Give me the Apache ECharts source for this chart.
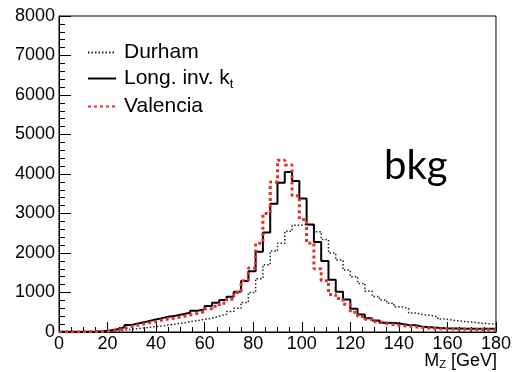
<!DOCTYPE html>
<html><head><meta charset="utf-8">
<script src="https://cdn.jsdelivr.net/npm/echarts@6/dist/echarts.min.js"></script>
<style>html,body{margin:0;padding:0;background:#fff}#c{width:514px;height:372px}</style>
</head><body><div id="c"></div>
<script>
// lower edges of the 3 GeV bins
const binLow = [0,3,6,9,12,15,18,21,24,27,30,33,36,39,42,45,48,51,54,57,
  60,63,66,69,72,75,78,81,84,87,90,93,96,99,102,105,108,111,114,117,
  120,123,126,129,132,135,138,141,144,147,150,153,156,159,162,165,168,171,174,177];
const xMax = 180;
const seriesNames = ['Durham', 'Long. inv. kt', 'Valencia'];
const durham = [0,0,2,3,5,8,20,30,50,70,90,110,130,150,180,200,230,260,290,320,
  350,400,450,520,600,750,1000,1350,1700,2050,2250,2550,2700,2720,2700,2540,2340,2000,1820,1570,
  1400,1230,1030,900,810,730,640,600,480,440,420,390,330,300,280,260,250,220,210,200];
const likt = [5,5,5,8,10,20,40,70,118,177,219,261,303,345,388,413,447,489,540,573,
  657,741,809,893,1020,1290,1540,2030,2520,3250,3780,4050,3820,3380,2720,2280,1800,1320,1020,820,
  590,440,345,290,235,225,210,180,170,130,120,110,95,90,88,85,85,80,80,80];
const valencia = [2,2,3,5,8,15,25,50,90,140,180,215,255,295,330,360,390,430,470,510,
  590,650,730,830,1000,1300,1620,2250,3000,3800,4350,4230,3450,2850,2250,1600,1300,950,850,700,
  500,390,320,260,215,190,165,150,130,110,95,85,80,75,70,70,65,65,60,60];
const xTicks = {min:0, max:180, step:20};
const yTicks = {min:0, max:8000, step:1000};

function steps(vals){
  const d = binLow.map((x,i)=>[x, vals[i]]);
  d.push([xMax, vals[vals.length-1]]);
  return d;
}
const FF = 'Liberation Sans';
const chart = echarts.init(document.getElementById('c'), null, {renderer:'canvas'});
chart.setOption({
  animation:false,
  backgroundColor:'#fff',
  grid:{left:59,right:17,top:16,bottom:40,show:true,borderColor:'#000',borderWidth:1,backgroundColor:'transparent'},
  xAxis:{type:'value',min:xTicks.min,max:xTicks.max,interval:xTicks.step,
    axisLine:{show:true,onZero:false,lineStyle:{color:'#000',width:1}},
    axisTick:{show:true,inside:true,length:10,lineStyle:{color:'#000',width:1}},
    minorTick:{show:true,splitNumber:4,length:5,lineStyle:{color:'#000',width:1}},
    splitLine:{show:false},
    axisLabel:{fontSize:18,color:'#000',margin:3,fontFamily:FF,formatter:v=>String(v)}},
  yAxis:{type:'value',min:yTicks.min,max:yTicks.max,interval:yTicks.step,
    axisLine:{show:true,onZero:false,lineStyle:{color:'#000',width:1}},
    axisTick:{show:true,inside:true,length:12,lineStyle:{color:'#000',width:1}},
    minorTick:{show:true,splitNumber:5,length:6,lineStyle:{color:'#000',width:1}},
    splitLine:{show:false},
    axisLabel:{fontSize:18,color:'#000',margin:4,fontFamily:FF,formatter:v=>String(v)}},
  legend:{left:82,top:37,orient:'vertical',itemWidth:28,itemHeight:14,itemGap:5,selectedMode:false,
    data:seriesNames,
    itemStyle:{opacity:0},
    formatter:function(n){return n==='Long. inv. kt' ? 'Long. inv. k{sub|t}' : n;},
    textStyle:{fontSize:21,color:'#000',fontFamily:FF,padding:[0,0,0,3],
      rich:{sub:{fontSize:13,fontFamily:FF,color:'#000',padding:[12,0,0,0]}}}},
  graphic:[
    {type:'text',left:384,top:146,style:{text:'bkg',fontSize:40,fontFamily:'Lato',fill:'#000'}},
    {type:'text',right:17,top:352,style:{text:'M{sub|Z} [GeV]',fontSize:18,fontFamily:FF,fill:'#000',
      rich:{sub:{fontSize:11,fontFamily:FF,fill:'#000',padding:[8,0,0,0]}}}}
  ],
  series:[
    {name:seriesNames[0],type:'line',step:'end',symbol:'none',data:steps(durham),
      lineStyle:{color:'#222',width:1.5,type:[1.5,2]},itemStyle:{color:'#222'}},
    {name:seriesNames[1],type:'line',step:'end',symbol:'none',data:steps(likt),
      lineStyle:{color:'#000',width:2,type:'solid'},itemStyle:{color:'#000'}},
    {name:seriesNames[2],type:'line',step:'end',symbol:'none',data:steps(valencia),
      lineStyle:{color:'#e2302c',width:3,type:[3,3]},itemStyle:{color:'#e2302c'}}
  ]
});
</script></body></html>
